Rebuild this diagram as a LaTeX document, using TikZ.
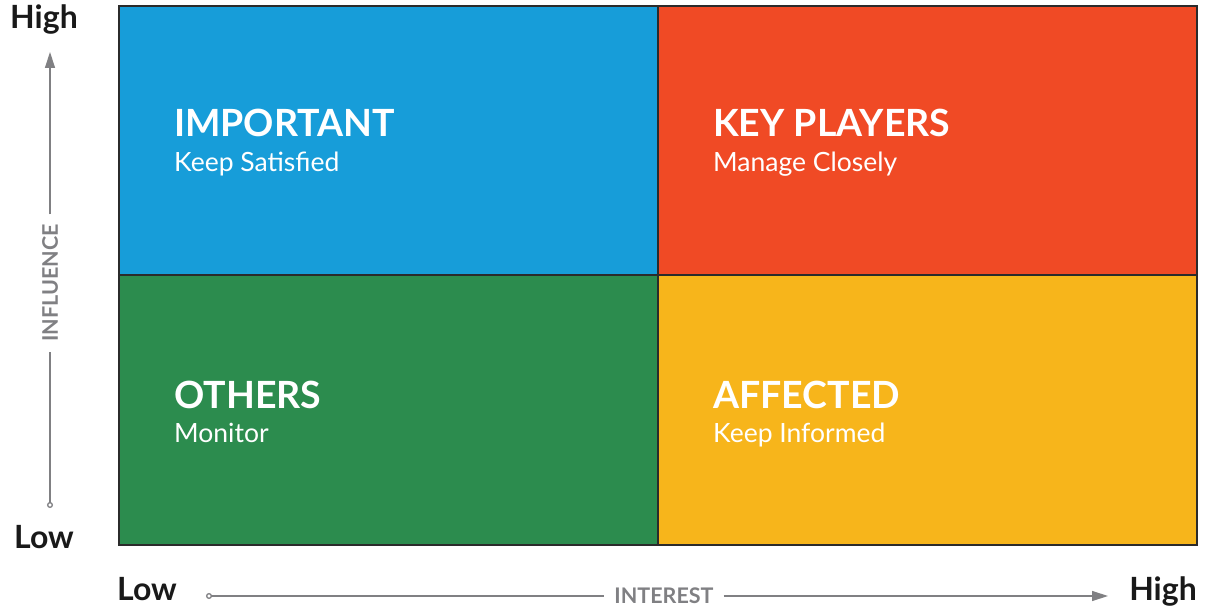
\documentclass[tikz,border=0pt]{standalone}
\usepackage{fontspec}
\setmainfont{Lato}
\usetikzlibrary{arrows.meta}

\definecolor{quadblue}{HTML}{179DD9}
\definecolor{quadred}{HTML}{F04A25}
\definecolor{quadgreen}{HTML}{2C8C4E}
\definecolor{quadyellow}{HTML}{F7B51B}
\definecolor{axisgray}{HTML}{808083}
\definecolor{edgedark}{HTML}{2B2B2B}

\tikzset{
  quadtitle/.style={anchor=base west, inner sep=0pt, text=white, font=\fontsize{37.5}{37.5}\selectfont\bfseries},
  quadsub/.style={anchor=base west, inner sep=0pt, text=white, font=\fontsize{26.5}{26.5}\selectfont},
  level/.style={anchor=base, inner sep=0pt, text=black!90, font=\fontsize{32}{32}\selectfont\bfseries},
  axislabel/.style={inner sep=0pt, outer xsep=10pt, text=axisgray, font=\fontsize{21.5}{21.5}\selectfont\bfseries},
  axisline/.style={draw=axisgray, line width=1.3pt},
}

\begin{document}
\begin{tikzpicture}[x=1pt, y=-1pt]
\useasboundingbox (0,0) rectangle (1210,609);

% Quadrants
\filldraw[fill=quadblue, draw=edgedark, line width=1.5pt] (119,6) rectangle (658,275);
\filldraw[fill=quadred, draw=edgedark, line width=1.5pt] (658,6) rectangle (1197,275);
\filldraw[fill=quadgreen, draw=edgedark, line width=1.5pt] (119,275) rectangle (658,545);
\filldraw[fill=quadyellow, draw=edgedark, line width=1.5pt] (658,275) rectangle (1197,545);

% Quadrant texts
\node[quadtitle] (important) at (174,137) {IMPORTANT};
\node[quadsub] (satisfied) at (174,172) {Keep Satisfied};
\node[quadtitle] (keyplayers) at (713,137) {KEY PLAYERS};
\node[quadsub] (closely) at (713,172) {Manage Closely};
\node[quadtitle] (others) at (174,408) {OTHERS};
\node[quadsub] (monitor) at (174,442) {Monitor};
\node[quadtitle] (affected) at (713,408) {AFFECTED};
\node[quadsub] (informed) at (713,442) {Keep Informed};

% Influence axis
\node[level] (yhigh) at (44,29) {High};
\node[level] (ylow) at (44,548) {Low};
\node[axislabel, rotate=90] (influence) at (50,283) {INFLUENCE};
\coordinate (ystart) at (50,508);
\coordinate (yend) at (50,52);
\draw[axisline, {Circle[open,length=6pt]}-] (ystart) -- (influence.west);
\draw[axisline, -{Triangle[length=16pt,width=10pt]}] (influence.east) -- (yend);

% Interest axis
\node[level] (xlow) at (147,600) {Low};
\node[level] (xhigh) at (1163,600) {High};
\node[axislabel] (interest) at (664,596) {INTEREST};
\coordinate (xstart) at (206,596);
\coordinate (xend) at (1108,596);
\draw[axisline, {Circle[open,length=6pt]}-] (xstart) -- (interest.west);
\draw[axisline, -{Triangle[length=16pt,width=10pt]}] (interest.east) -- (xend);
\end{tikzpicture}
\end{document}
